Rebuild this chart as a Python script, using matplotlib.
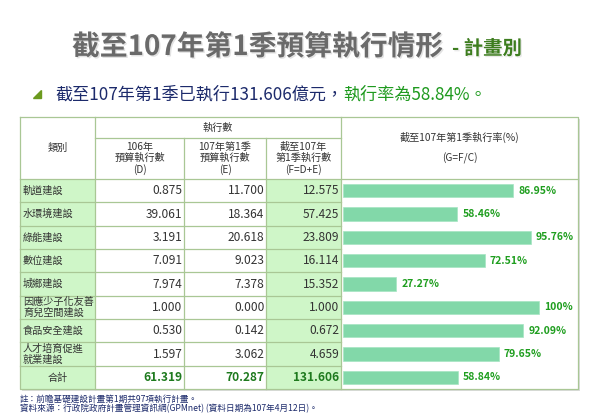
import matplotlib
matplotlib.use('Agg')
import matplotlib.pyplot as plt
from matplotlib.patches import Rectangle, Polygon
import matplotlib.patheffects as pe

plt.rcParams['font.family'] = ['Noto Sans CJK TC', 'DejaVu Sans']

# 資料
categories = ['軌道建設', '水環境建設', '綠能建設', '數位建設', '城鄉建設',
              '因應少子化友善\n育兒空間建設', '食品安全建設', '人才培育促進\n就業建設']
d_106 = ['0.875', '39.061', '3.191', '7.091', '7.974', '1.000', '0.530', '1.597']
e_107q1 = ['11.700', '18.364', '20.618', '9.023', '7.378', '0.000', '0.142', '3.062']
f_sum = ['12.575', '57.425', '23.809', '16.114', '15.352', '1.000', '0.672', '4.659']
rate = [86.95, 58.46, 95.76, 72.51, 27.27, 100, 92.09, 79.65]
total_label = '合計'
total_vals = ['61.319', '70.287', '131.606']
total_rate = 58.84
headers = ['106年\n預算執行數\n(D)', '107年第1季\n預算執行數\n(E)', '截至107年\n第1季執行數\n(F=D+E)']

GREEN_BG = '#cff6c8'
LINE = '#a9c795'
BAR = '#82d8a9'
LBL = '#1f9e1f'

fig = plt.figure(figsize=(6, 4.16), dpi=100)
ax = fig.add_axes([0, 0, 1, 1])
ax.set_xlim(0, 600)
ax.set_ylim(416, 0)
ax.axis('off')

# 標題
ax.text(72, 47, '截至107年第1季預算執行情形', fontsize=20, fontweight='bold',
        color='#6a6a6a', va='center', ha='left',
        path_effects=[pe.withSimplePatchShadow(offset=(1, -1), shadow_rgbFace='#d0d0d0', alpha=0.6)])
ax.text(452, 49, '- 計畫別', fontsize=14, fontweight='bold', color='#3d7d1e',
        va='center', ha='left',
        path_effects=[pe.withSimplePatchShadow(offset=(1, -1), shadow_rgbFace='#dddddd', alpha=0.6)])

# 副標
ax.add_patch(Polygon([[33, 98], [41, 98], [41, 90]], closed=True, color='#6c9a1f'))
t = ax.text(55, 94, '截至107年第1季已執行131.606億元，', fontsize=12.3,
            color='#1c2a6b', va='center', ha='left')
fig.canvas.draw()
bb = t.get_window_extent()
x_end = ax.transData.inverted().transform((bb.x1, bb.y0))[0]
ax.text(x_end, 94, '執行率為58.84%。', fontsize=12.3, color='#1f9a1f', va='center', ha='left')

# 表格
col_x = [20, 95, 184, 266, 341, 578]
top, hmid, hbot, bottom = 117, 138, 179, 389
n = len(categories) + 1
rh = (bottom - hbot) / n

# 陰影
ax.add_patch(Rectangle((col_x[0] + 2, top + 2), col_x[-1] - col_x[0], bottom - top,
                       facecolor='#dcdcdc', edgecolor='none', zorder=0))
ax.add_patch(Rectangle((col_x[0], top), col_x[-1] - col_x[0], bottom - top,
                       facecolor='white', edgecolor='none', zorder=0.5))

for i in range(n):
    y0 = hbot + i * rh
    ax.add_patch(Rectangle((col_x[0], y0), col_x[1] - col_x[0], rh,
                           facecolor=GREEN_BG, edgecolor='none', zorder=1))
    ax.add_patch(Rectangle((col_x[3], y0), col_x[4] - col_x[3], rh,
                           facecolor=GREEN_BG, edgecolor='none', zorder=1))

lw = 0.9
ax.plot([col_x[0], col_x[-1], col_x[-1], col_x[0], col_x[0]],
        [top, top, bottom, bottom, top], color=LINE, lw=lw, zorder=3)
ax.plot([col_x[1], col_x[4]], [hmid, hmid], color=LINE, lw=lw, zorder=3)
ax.plot([col_x[0], col_x[5]], [hbot, hbot], color=LINE, lw=lw, zorder=3)
for i in range(1, n):
    y = hbot + i * rh
    ax.plot([col_x[0], col_x[4]], [y, y], color=LINE, lw=lw, zorder=3)
ax.plot([col_x[1], col_x[1]], [top, bottom], color=LINE, lw=lw, zorder=3)
for x in col_x[2:4]:
    ax.plot([x, x], [hmid, bottom], color=LINE, lw=lw, zorder=3)
ax.plot([col_x[4], col_x[4]], [top, bottom], color=LINE, lw=lw, zorder=3)

# 表頭
hfs = 7.3
ax.text((col_x[0] + col_x[1]) / 2, (top + hbot) / 2, '類別', fontsize=hfs,
        color='#333333', ha='center', va='center', zorder=4)
ax.text((col_x[1] + col_x[4]) / 2, (top + hmid) / 2, '執行數', fontsize=hfs,
        color='#333333', ha='center', va='center', zorder=4)
for j, h in enumerate(headers):
    ax.text((col_x[1 + j] + col_x[2 + j]) / 2, (hmid + hbot) / 2, h, fontsize=hfs,
            color='#333333', ha='center', va='center', linespacing=1.1, zorder=4)
ax.text((col_x[4] + col_x[5]) / 2, (top + hbot) / 2, '截至107年第1季執行率(%)\n\n(G=F/C)',
        fontsize=hfs, color='#333333', ha='center', va='center', linespacing=1.0, zorder=4)

# 內容
for i in range(len(categories)):
    yc = hbot + (i + 0.5) * rh
    ax.text(col_x[0] + 3, yc, categories[i], fontsize=7.3, color='#333333',
            ha='left', va='center', linespacing=1.05, zorder=4)
    for j, vals in enumerate([d_106, e_107q1, f_sum]):
        ax.text(col_x[2 + j] - 1.5, yc, vals[i], fontsize=8.6, color='#333333',
                ha='right', va='center', zorder=4)
yc = hbot + (n - 0.5) * rh
ax.text((col_x[0] + col_x[1]) / 2, yc, total_label, fontsize=7.3, color='#333333',
        ha='center', va='center', zorder=4)
for j, v in enumerate(total_vals):
    ax.text(col_x[2 + j] - 1.5, yc, v, fontsize=8.6, color='#1e7a1e', fontweight='bold',
            ha='right', va='center', zorder=4)

# 長條圖
bx = fig.add_axes([col_x[4] / 600, 1 - bottom / 416, (col_x[5] - col_x[4]) / 600,
                   (bottom - hbot) / 416])
bx.patch.set_alpha(0)
bx.axis('off')
rates = rate + [total_rate]
bx.barh(range(n), rates, height=0.57, color=BAR, edgecolor='#a6e4c2', linewidth=0.5)
bx.set_xlim(-1, 120)
bx.set_ylim(n - 0.5, -0.5)
for i, r in enumerate(rates):
    lab = '100%' if r == 100 else f'{r:.2f}%'
    bx.text(r + 2.5, i, lab, fontsize=7.5, color=LBL, fontweight='bold',
            ha='left', va='center')

# 註
ax.text(20, 399, '註：前瞻基礎建設計畫第1期共97項執行計畫。', fontsize=6.2,
        color='#1c2a6b', ha='left', va='center')
ax.text(20, 409, '資料來源：行政院政府計畫管理資訊網(GPMnet) (資料日期為107年4月12日)。',
        fontsize=6.2, color='#1c2a6b', ha='left', va='center')

fig.savefig('out.png', dpi=100)
